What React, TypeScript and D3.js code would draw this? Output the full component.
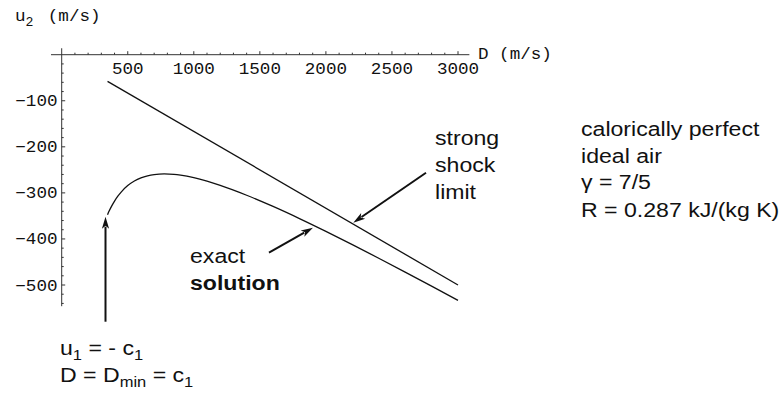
import React from 'react';
import * as d3 from 'd3';

// Exact normal-shock solution: shock speed D (m/s) vs. post-shock velocity u2 (m/s)
const shockSpeed = [347, 360, 380, 400, 425, 450, 500, 550, 600, 650, 700, 776, 850, 900, 1000, 1100, 1200, 1400, 1600, 1800, 2000, 2200, 2400, 2600, 2800, 3000];
const exactU2 = [-347.3, -339.0, -327.7, -317.8, -307.2, -298.2, -284.2, -274.3, -267.4, -262.9, -260.2, -258.8, -259.8, -261.6, -267.1, -274.7, -283.7, -305.1, -329.5, -355.8, -383.6, -412.3, -441.9, -472.0, -502.5, -533.5];

// Strong shock limit (straight line)
const strongD = [347, 3000];
const strongU2 = [-57.8, -500];

const xTicks = [500, 1000, 1500, 2000, 2500, 3000];
const yTicks = [-100, -200, -300, -400, -500];

// Annotation arrows, in data units: [D, u2] from -> to
const arrowDmin = { from: [331.6, -579.7], to: [331.6, -351.7] };
const arrowStrong = { from: [2757.8, -256.2], to: [2207.4, -364.7] };
const arrowExact = { from: [1569, -429.9], to: [1902, -375.6] };

const W = 779;
const H = 393;
const SANS = '"Liberation Sans", Arial, Helvetica, sans-serif';
const MONO = '"Liberation Mono", "Courier New", monospace';
const SX = 1.1; // horizontal stretch of the typography
const INK = '#111';

export default function App() {
  const x = d3.scaleLinear().domain([0, 3000]).range([61.7, 458]);
  const y = d3.scaleLinear().domain([0, -500]).range([54.7, 285]);

  const line = d3
    .line<[number, number]>()
    .x((d) => x(d[0]))
    .y((d) => y(d[1]))
    .curve(d3.curveMonotoneX);

  const exactPts = shockSpeed.map((d, i) => [d, exactU2[i]] as [number, number]);
  const strongPts = strongD.map((d, i) => [d, strongU2[i]] as [number, number]);

  const xMinor = d3.range(100, 3001, 100);
  const yMinor = d3.range(-20, -541, -20);

  const arrow = (a: { from: number[]; to: number[] }, key: string) => {
    const x0 = x(a.from[0]);
    const y0 = y(a.from[1]);
    const x1 = x(a.to[0]);
    const y1 = y(a.to[1]);
    const ang = Math.atan2(y1 - y0, x1 - x0);
    const len = 12;
    const hw = 3.6;
    const bx = x1 - len * Math.cos(ang);
    const by = y1 - len * Math.sin(ang);
    const px = -Math.sin(ang) * hw;
    const py = Math.cos(ang) * hw;
    return (
      <g key={key}>
        <line x1={x0} y1={y0} x2={bx + 2 * Math.cos(ang)} y2={by + 2 * Math.sin(ang)} stroke={INK} strokeWidth={2} />
        <path d={`M${x1},${y1}L${bx + px},${by + py}L${bx + 3 * Math.cos(ang)},${by + 3 * Math.sin(ang)}L${bx - px},${by - py}Z`} fill={INK} />
      </g>
    );
  };

  const sansText = (tx: number, ty: number, content: React.ReactNode, bold = false, key?: string) => (
    <text
      key={key}
      transform={`translate(${tx},${ty}) scale(${SX},1)`}
      fontFamily={SANS}
      fontSize={21}
      fontWeight={bold ? 'bold' : 'normal'}
      fill={INK}
    >
      {content}
    </text>
  );

  return (
    <svg width={W} height={H} style={{ position: 'absolute', left: 0, top: 0, background: '#fff' }}>
      {/* axes */}
      <g stroke="#333" strokeWidth={1} fill="none">
        <line x1={x(-81)} y1={y(0)} x2={x(3086)} y2={y(0)} />
        <line x1={x(0)} y1={y(14)} x2={x(0)} y2={y(-546)} />
        {xMinor.map((t) => (
          <line key={'xm' + t} x1={x(t)} x2={x(t)} y1={y(0)} y2={y(0) - (t % 500 === 0 ? 3.5 : 2)} />
        ))}
        {yMinor.map((t) => (
          <line key={'ym' + t} x1={x(0)} x2={x(0) + (t % 100 === 0 ? 3.5 : 2)} y1={y(t)} y2={y(t)} />
        ))}
      </g>

      {/* tick labels */}
      <g fontFamily={MONO} fontSize={16} fill={INK}>
        {xTicks.map((t) => (
          <text key={'xl' + t} transform={`translate(${x(t)},74) scale(${SX},1)`} textAnchor="middle">
            {t}
          </text>
        ))}
        {yTicks.map((t) => (
          <text key={'yl' + t} transform={`translate(57.5,${y(t) + 5.5}) scale(${SX},1)`} textAnchor="end">
            {'\u2212' + Math.abs(t)}
          </text>
        ))}
        <text transform={`translate(478,59) scale(${SX},1)`}>D (m/s)</text>
        <text transform={`translate(15,20.5) scale(${SX},1)`}>
          <tspan>u</tspan>
          <tspan dy={5} fontSize={12}>2</tspan>
          <tspan dy={-5} dx={13}>(m/s)</tspan>
        </text>
      </g>

      {/* curves */}
      <path d={line(strongPts) ?? ''} fill="none" stroke={INK} strokeWidth={1.3} />
      <path d={line(exactPts) ?? ''} fill="none" stroke={INK} strokeWidth={1.3} />

      {/* arrows */}
      {arrow(arrowDmin, 'a1')}
      {arrow(arrowStrong, 'a2')}
      {arrow(arrowExact, 'a3')}

      {/* annotations */}
      {sansText(435, 144.5, 'strong', false, 't1')}
      {sansText(435, 171.5, 'shock', false, 't2')}
      {sansText(435, 199, 'limit', false, 't3')}

      {sansText(581, 135.5, 'calorically perfect', false, 'c1')}
      {sansText(581, 163, 'ideal air', false, 'c2')}
      {sansText(581, 189, '\u03b3 = 7/5', false, 'c3')}
      {sansText(581, 216.5, 'R = 0.287 kJ/(kg K)', false, 'c4')}

      {sansText(190, 262.5, 'exact', false, 'e1')}
      {sansText(190, 289.5, 'solution', true, 'e2')}

      {sansText(
        60,
        355,
        <>
          <tspan>u</tspan>
          <tspan dy={5} fontSize={15}>1</tspan>
          <tspan dy={-5}> = - c</tspan>
          <tspan dy={5} fontSize={15}>1</tspan>
        </>,
        false,
        'b1'
      )}
      {sansText(
        60,
        382,
        <>
          <tspan>D = D</tspan>
          <tspan dy={5} fontSize={15}>min</tspan>
          <tspan dy={-5}> = c</tspan>
          <tspan dy={5} fontSize={15}>1</tspan>
        </>,
        false,
        'b2'
      )}
    </svg>
  );
}
